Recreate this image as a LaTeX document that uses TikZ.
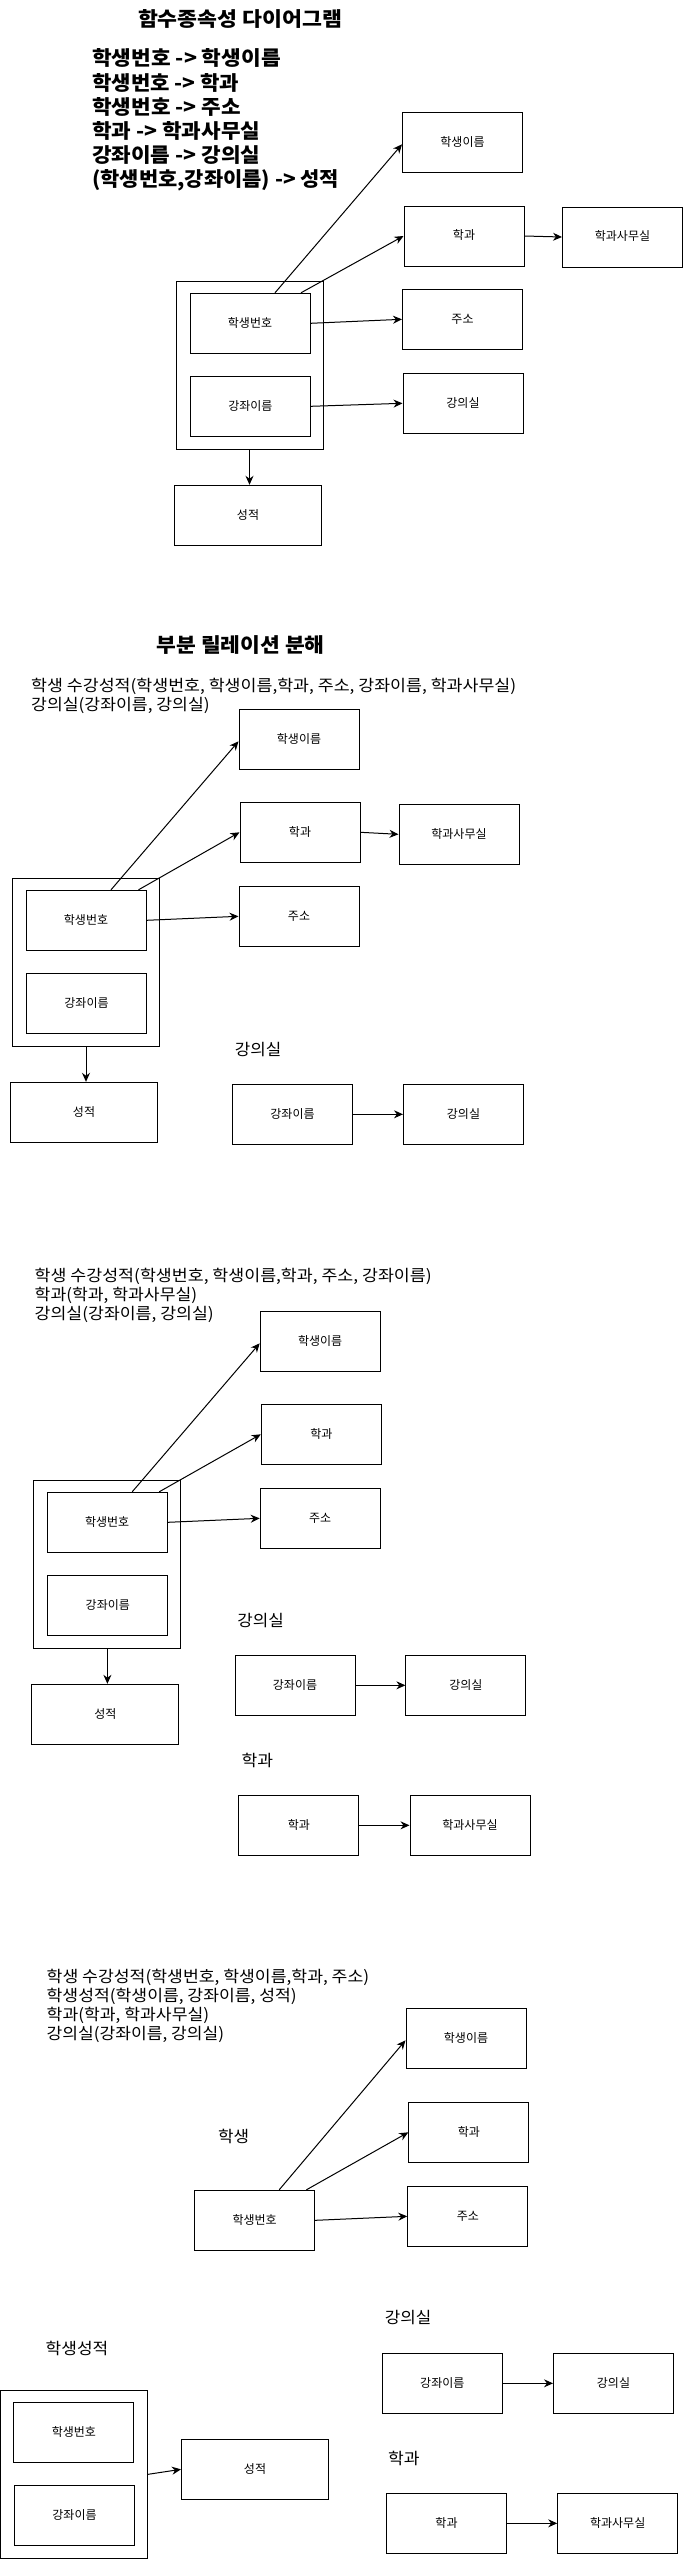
\documentclass[tikz,border=0pt]{standalone}
\usepackage{graphicx}
\usepackage{fontspec}
\setmainfont{Noto Sans CJK KR}
\usetikzlibrary{arrows.meta}
\newcommand{\fitw}[2]{\resizebox{#1pt}{\height}{#2}}
\tikzset{
  box/.style={draw, line width=1pt, minimum width=120pt, minimum height=60pt, inner sep=0pt,
    font=\fontsize{12}{14}\selectfont, text height=0.85em, text depth=0.1em},
  widebox/.style={box, minimum width=147pt},
  grp/.style={draw, line width=1pt, minimum width=147pt, minimum height=168pt, inner sep=0pt},
  arr/.style={-{Stealth[length=9pt,width=8pt]}, line width=1pt},
  titletext/.style={font=\fontsize{20}{24}\selectfont\bfseries, inner sep=0pt, text height=17pt, text depth=2pt},
  listtext/.style={titletext, anchor=west},
  reltext/.style={font=\fontsize{16}{19}\selectfont, inner sep=0pt, anchor=west, text height=13.6pt, text depth=1.6pt},
  heading/.style={font=\fontsize{16}{19}\selectfont, inner sep=0pt, text height=13.6pt, text depth=1.6pt}
}
\begin{document}
\begin{tikzpicture}[x=1pt, y=-1pt]
\useasboundingbox (0,0) rectangle (683,2559);

% ---------------- Section 1 ----------------
\node[titletext] (t1) at (240,18.5) {\fitw{204}{함수종속성 다이어그램}};
\node[listtext] (l1a) at (92,58.3) {\fitw{188.5}{학생번호 -> 학생이름}};
\node[listtext] (l1b) at (92,82.5) {\fitw{147}{학생번호 -> 학과}};
\node[listtext] (l1c) at (92,106.5) {\fitw{148.5}{학생번호 -> 주소}};
\node[listtext] (l1d) at (92,130.5) {\fitw{168}{학과 -> 학과사무실}};
\node[listtext] (l1e) at (92,154.5) {\fitw{168}{강좌이름 -> 강의실}};
\node[listtext] (l1f) at (92,178.5) {\fitw{247}{(학생번호,강좌이름) -> 성적}};

\node[box] (s1name) at (462.5,142.3) {학생이름};
\node[box] (s1dept) at (464,236) {학과};
\node[box] (s1office) at (622.5,237) {학과사무실};
\node[box] (s1addr) at (462.5,319.3) {주소};
\node[box] (s1room) at (463,403.3) {강의실};
\node[grp] (s1outer) at (249.5,365.3) {};
\node[box] (s1sno) at (250,323.3) {학생번호};
\node[box] (s1cname) at (250.4,406.3) {강좌이름};
\node[widebox] (s1grade) at (248,515.3) {성적};

\draw[arr] ([xshift=25pt]s1sno.north) -- ([yshift=-2pt]s1name.west);
\draw[arr] ([xshift=51pt]s1sno.north) -- (s1dept.west);
\draw[arr] (s1sno.east) -- (s1addr.west);
\draw[arr] (s1cname.east) -- (s1room.west);
\draw[arr] (s1dept.east) -- (s1office.west);
\draw[arr] (s1outer.south) -- (s1outer.south |- s1grade.north);

% ---------------- Section 2 ----------------
\node[titletext] (t2) at (240.7,645) {\fitw{168}{부분 릴레이션 분해}};
\node[reltext] (r2a) at (31,685.5) {\fitw{485}{학생 수강성적(학생번호, 학생이름,학과, 주소, 강좌이름, 학과사무실)}};
\node[reltext] (r2b) at (31,704.5) {\fitw{178.5}{강의실(강좌이름, 강의실)}};

\node[box] (s2name) at (299,739.3) {학생이름};
\node[box] (s2dept) at (300,832.3) {학과};
\node[box] (s2office) at (459,834.3) {학과사무실};
\node[box] (s2addr) at (299,916.3) {주소};
\node[grp] (s2outer) at (86,962.3) {};
\node[box] (s2sno) at (86,920.3) {학생번호};
\node[box] (s2cname) at (86.5,1003.3) {강좌이름};
\node[widebox] (s2grade) at (84,1112.3) {성적};
\node[heading] (h2a) at (258,1049) {\fitw{46.5}{강의실}};
\node[box] (s2rcname) at (292.5,1114.3) {강좌이름};
\node[box] (s2rroom) at (463.5,1114.3) {강의실};

\draw[arr] ([xshift=25pt]s2sno.north) -- ([yshift=-2pt]s2name.west);
\draw[arr] ([xshift=52.5pt]s2sno.north) -- (s2dept.west);
\draw[arr] (s2sno.east) -- (s2addr.west);
\draw[arr] (s2dept.east) -- (s2office.west);
\draw[arr] (s2outer.south) -- (s2outer.south |- s2grade.north);
\draw[arr] (s2rcname.east) -- (s2rroom.west);

% ---------------- Section 3 ----------------
\node[reltext] (r3a) at (34.5,1275) {\fitw{397}{학생 수강성적(학생번호, 학생이름,학과, 주소, 강좌이름)}};
\node[reltext] (r3b) at (34.5,1294) {\fitw{162.5}{학과(학과, 학과사무실)}};
\node[reltext] (r3c) at (34.5,1313.3) {\fitw{179}{강의실(강좌이름, 강의실)}};

\node[box] (s3name) at (320.2,1341.3) {학생이름};
\node[box] (s3dept) at (321.3,1434.3) {학과};
\node[box] (s3addr) at (320.2,1518.3) {주소};
\node[grp] (s3outer) at (107.4,1564.2) {};
\node[box] (s3sno) at (107.2,1522.3) {학생번호};
\node[box] (s3cname) at (107.8,1605.3) {강좌이름};
\node[widebox] (s3grade) at (105.4,1714.3) {성적};
\node[heading] (h3a) at (260.7,1620) {\fitw{46.5}{강의실}};
\node[box] (s3rcname) at (295,1685.3) {강좌이름};
\node[box] (s3rroom) at (465.9,1685.3) {강의실};
\node[heading] (h3b) at (257.4,1760) {\fitw{31.5}{학과}};
\node[box] (s3rdept) at (298.9,1825.3) {학과};
\node[box] (s3roffice) at (470,1825.3) {학과사무실};

\draw[arr] ([xshift=25pt]s3sno.north) -- ([yshift=-2pt]s3name.west);
\draw[arr] ([xshift=52pt]s3sno.north) -- (s3dept.west);
\draw[arr] (s3sno.east) -- (s3addr.west);
\draw[arr] (s3outer.south) -- (s3outer.south |- s3grade.north);
\draw[arr] (s3rcname.east) -- (s3rroom.west);
\draw[arr] (s3rdept.east) -- (s3roffice.west);

% ---------------- Section 4 ----------------
\node[reltext] (r4a) at (46.5,1976) {\fitw{322.5}{학생 수강성적(학생번호, 학생이름,학과, 주소)}};
\node[reltext] (r4b) at (46.5,1995) {\fitw{250}{학생성적(학생이름, 강좌이름, 성적)}};
\node[reltext] (r4c) at (46.5,2014) {\fitw{162.5}{학과(학과, 학과사무실)}};
\node[reltext] (r4d) at (46.5,2033.5) {\fitw{177.5}{강의실(강좌이름, 강의실)}};

\node[heading] (h4a) at (233.5,2136.7) {\fitw{31}{학생}};
\node[box] (s4name) at (466,2038.3) {학생이름};
\node[box] (s4dept) at (468.8,2132.3) {학과};
\node[box] (s4addr) at (467.8,2216.3) {주소};
\node[box] (s4sno) at (254.7,2220.3) {학생번호};

\draw[arr] ([xshift=24.5pt]s4sno.north) -- ([yshift=-2pt]s4name.west);
\draw[arr] ([xshift=51.7pt]s4sno.north) -- (s4dept.west);
\draw[arr] (s4sno.east) -- (s4addr.west);

\node[heading] (h4b) at (408,2317.7) {\fitw{46.5}{강의실}};
\node[heading] (h4c) at (77,2348.3) {\fitw{62.5}{학생성적}};
\node[box] (s4rcname) at (442.3,2383.3) {강좌이름};
\node[box] (s4rroom) at (613.5,2383.3) {강의실};
\node[heading] (h4d) at (403.8,2458.3) {\fitw{31.5}{학과}};
\node[box] (s4rdept) at (446.5,2523.3) {학과};
\node[box] (s4roffice) at (617.7,2523.3) {학과사무실};

\node[grp] (s4outer) at (74,2474.3) {};
\node[box] (s4sno2) at (73.9,2432.3) {학생번호};
\node[box] (s4cname) at (74.5,2515.3) {강좌이름};
\node[widebox] (s4grade) at (255,2469.3) {성적};

\draw[arr] (s4outer.east) -- (s4grade.west);
\draw[arr] (s4rcname.east) -- (s4rroom.west);
\draw[arr] (s4rdept.east) -- (s4roffice.west);
\end{tikzpicture}
\end{document}
